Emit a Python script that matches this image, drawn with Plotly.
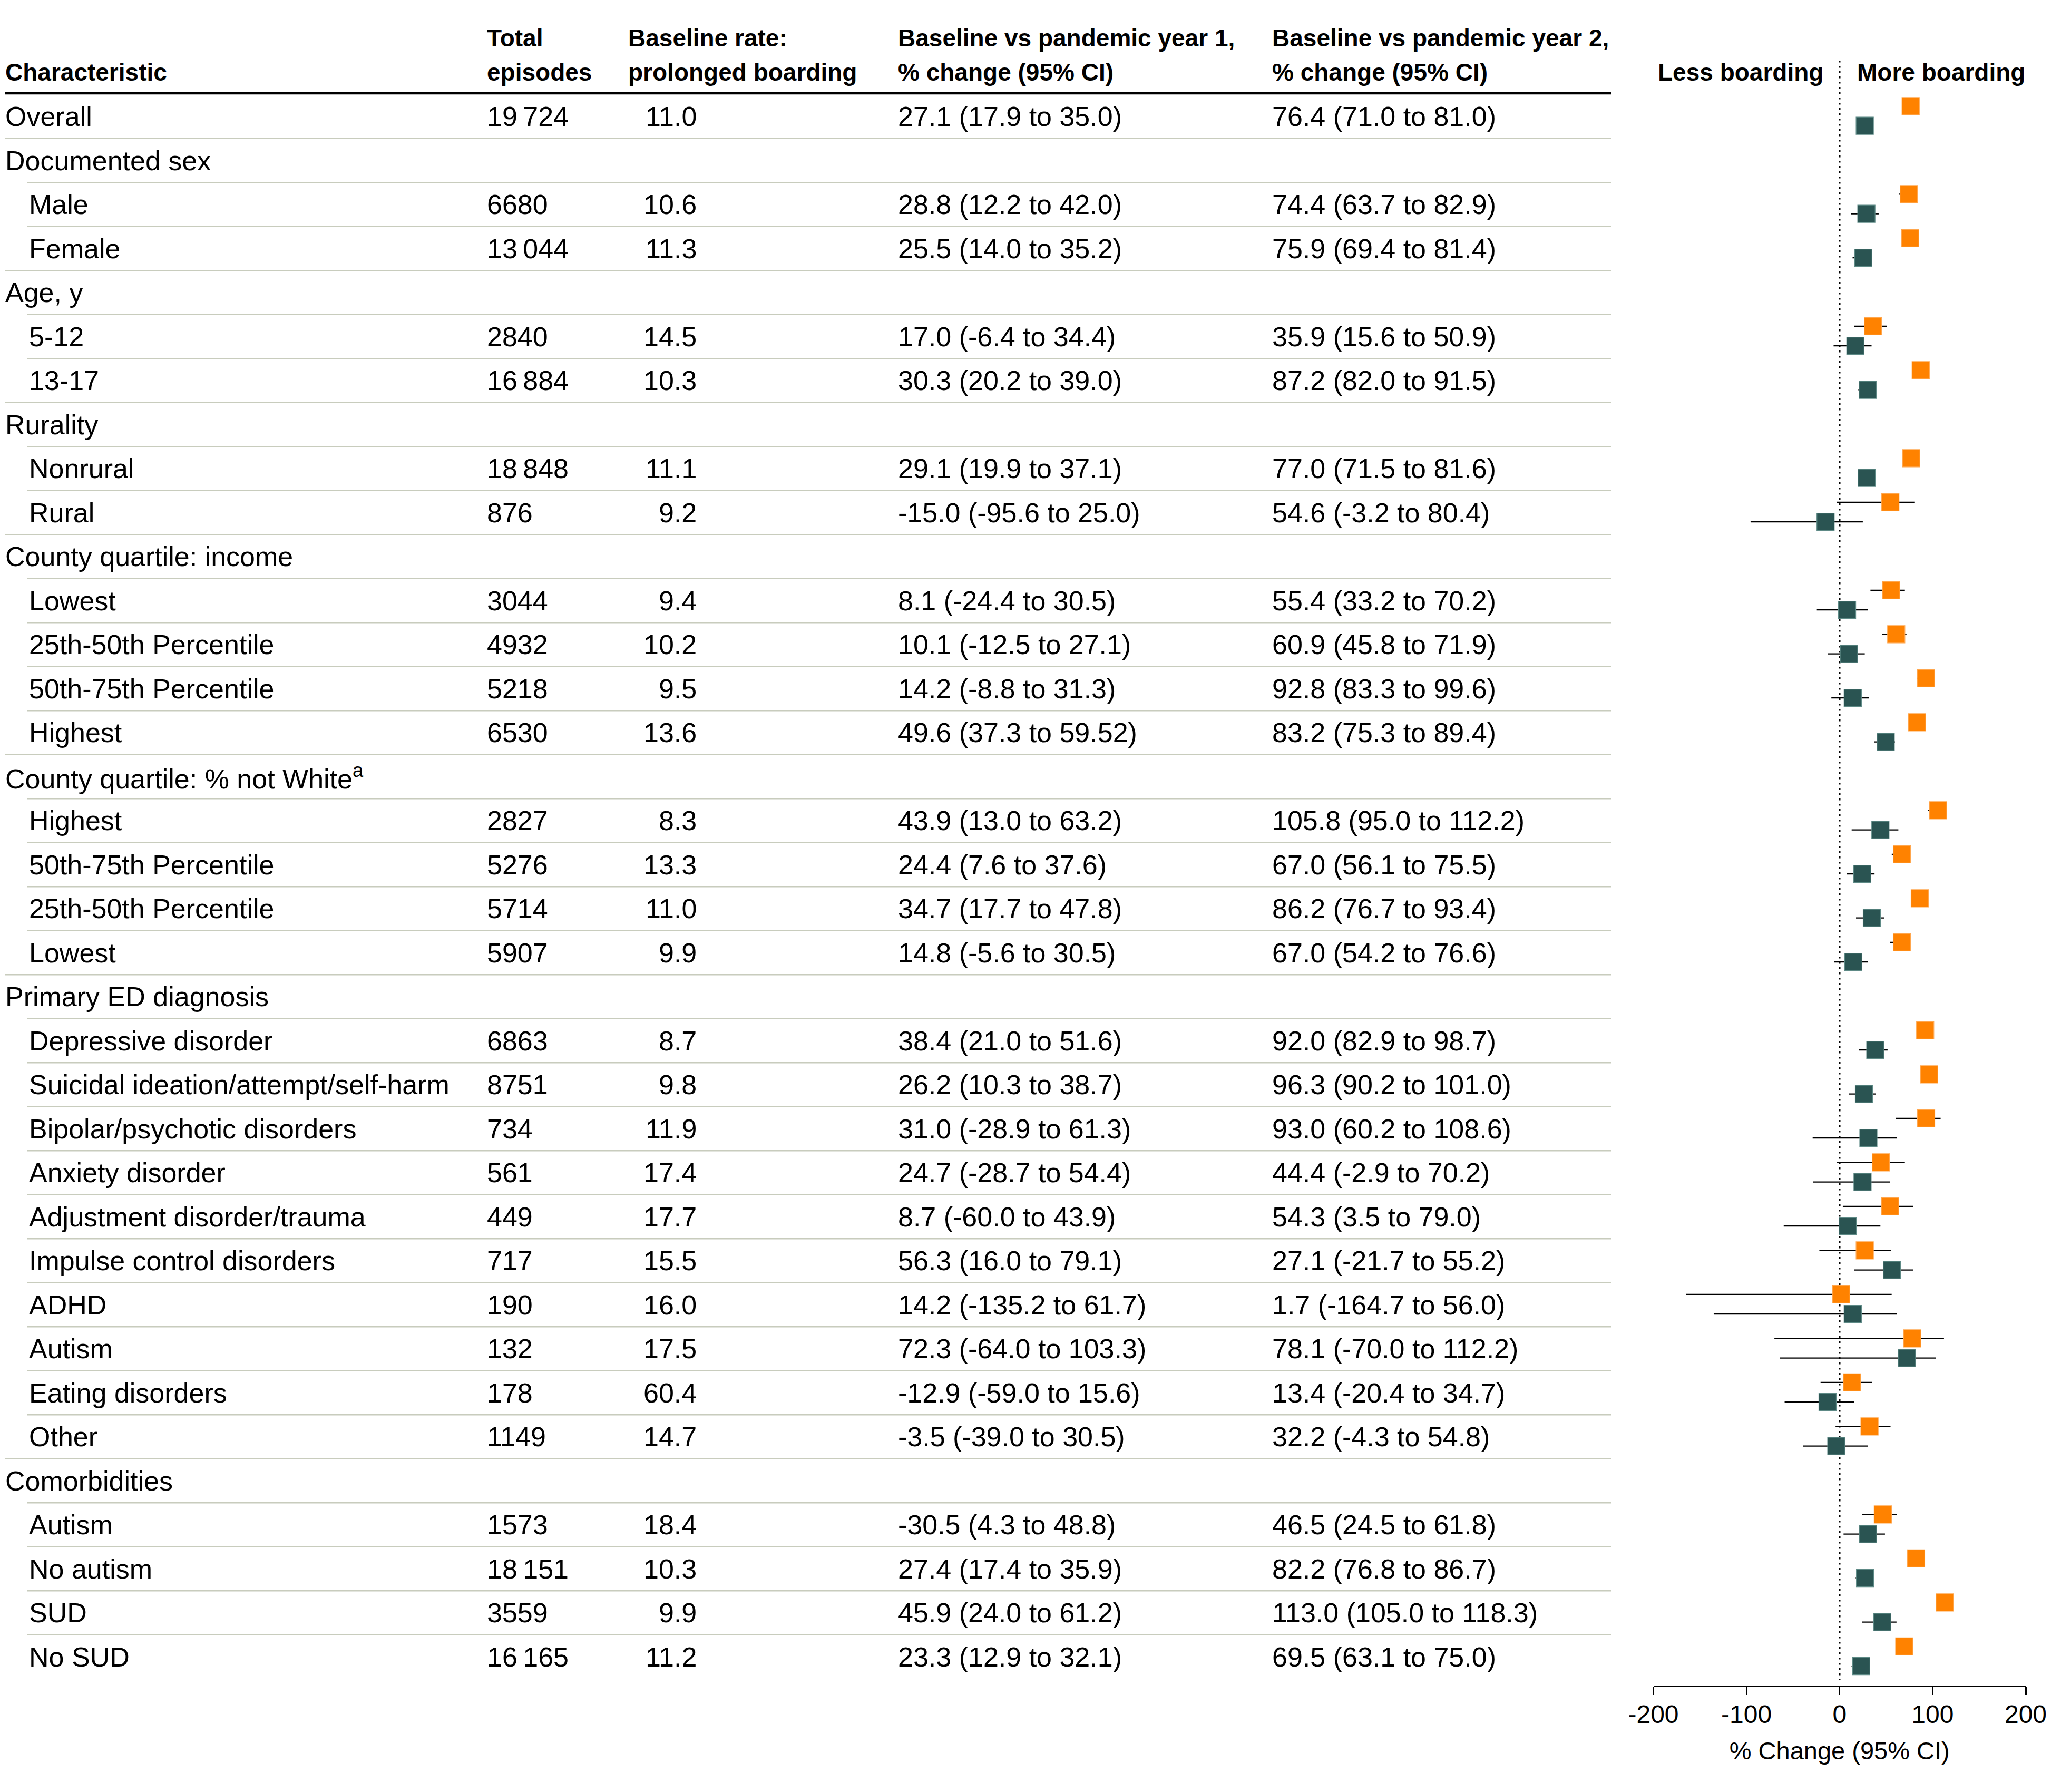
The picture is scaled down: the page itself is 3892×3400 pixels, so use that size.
import plotly.graph_objects as go

# ---------------- data ----------------
labels = ["Overall", "Documented sex", "Male", "Female", "Age, y", "5-12", "13-17",
          "Rurality", "Nonrural", "Rural", "County quartile: income", "Lowest",
          "25th-50th Percentile", "50th-75th Percentile", "Highest",
          "County quartile: % not White<sup>a</sup>", "Highest", "50th-75th Percentile",
          "25th-50th Percentile", "Lowest", "Primary ED diagnosis", "Depressive disorder",
          "Suicidal ideation/attempt/self-harm", "Bipolar/psychotic disorders",
          "Anxiety disorder", "Adjustment disorder/trauma", "Impulse control disorders",
          "ADHD", "Autism", "Eating disorders", "Other", "Comorbidities", "Autism",
          "No autism", "SUD", "No SUD"]
is_group = [True, True, False, False, True, False, False, True, False, False, True,
            False, False, False, False, True, False, False, False, False, True, False,
            False, False, False, False, False, False, False, False, False, True, False,
            False, False, False]
total_txt = ["19\u2009724", "", "6680", "13\u2009044", "", "2840", "16\u2009884", "",
             "18\u2009848", "876", "", "3044", "4932", "5218", "6530", "", "2827", "5276",
             "5714", "5907", "", "6863", "8751", "734", "561", "449", "717", "190", "132",
             "178", "1149", "", "1573", "18\u2009151", "3559", "16\u2009165"]
base_txt = ["11.0", "", "10.6", "11.3", "", "14.5", "10.3", "", "11.1", "9.2", "", "9.4",
            "10.2", "9.5", "13.6", "", "8.3", "13.3", "11.0", "9.9", "", "8.7", "9.8",
            "11.9", "17.4", "17.7", "15.5", "16.0", "17.5", "60.4", "14.7", "", "18.4",
            "10.3", "9.9", "11.2"]
y1_txt = ["27.1 (17.9 to 35.0)", "", "28.8 (12.2 to 42.0)", "25.5 (14.0 to 35.2)", "",
          "17.0 (-6.4 to 34.4)", "30.3 (20.2 to 39.0)", "", "29.1 (19.9 to 37.1)",
          "-15.0 (-95.6 to 25.0)", "", "8.1 (-24.4 to 30.5)", "10.1 (-12.5 to 27.1)",
          "14.2 (-8.8 to 31.3)", "49.6 (37.3 to 59.52)", "", "43.9 (13.0 to 63.2)",
          "24.4 (7.6 to 37.6)", "34.7 (17.7 to 47.8)", "14.8 (-5.6 to 30.5)", "",
          "38.4 (21.0 to 51.6)", "26.2 (10.3 to 38.7)", "31.0 (-28.9 to 61.3)",
          "24.7 (-28.7 to 54.4)", "8.7 (-60.0 to 43.9)", "56.3 (16.0 to 79.1)",
          "14.2 (-135.2 to 61.7)", "72.3 (-64.0 to 103.3)", "-12.9 (-59.0 to 15.6)",
          "-3.5 (-39.0 to 30.5)", "", "-30.5 (4.3 to 48.8)", "27.4 (17.4 to 35.9)",
          "45.9 (24.0 to 61.2)", "23.3 (12.9 to 32.1)"]
y2_txt = ["76.4 (71.0 to 81.0)", "", "74.4 (63.7 to 82.9)", "75.9 (69.4 to 81.4)", "",
          "35.9 (15.6 to 50.9)", "87.2 (82.0 to 91.5)", "", "77.0 (71.5 to 81.6)",
          "54.6 (-3.2 to 80.4)", "", "55.4 (33.2 to 70.2)", "60.9 (45.8 to 71.9)",
          "92.8 (83.3 to 99.6)", "83.2 (75.3 to 89.4)", "", "105.8 (95.0 to 112.2)",
          "67.0 (56.1 to 75.5)", "86.2 (76.7 to 93.4)", "67.0 (54.2 to 76.6)", "",
          "92.0 (82.9 to 98.7)", "96.3 (90.2 to 101.0)", "93.0 (60.2 to 108.6)",
          "44.4 (-2.9 to 70.2)", "54.3 (3.5 to 79.0)", "27.1 (-21.7 to 55.2)",
          "1.7 (-164.7 to 56.0)", "78.1 (-70.0 to 112.2)", "13.4 (-20.4 to 34.7)",
          "32.2 (-4.3 to 54.8)", "", "46.5 (24.5 to 61.8)", "82.2 (76.8 to 86.7)",
          "113.0 (105.0 to 118.3)", "69.5 (63.1 to 75.0)"]

N = None
# plotted estimates (year 1 = pandemic year 1, year 2 = pandemic year 2)
y1_est = [27.1, N, 28.8, 25.5, N, 17.0, 30.3, N, 29.1, -15.0, N, 8.1, 10.1, 14.2, 49.6, N,
          43.9, 24.4, 34.7, 14.8, N, 38.4, 26.2, 31.0, 24.7, 8.7, 56.3, 14.2, 72.3, -12.9,
          -3.5, N, 30.5, 27.4, 45.9, 23.3]
y1_lo = [17.9, N, 12.2, 14.0, N, -6.4, 20.2, N, 19.9, -95.6, N, -24.4, -12.5, -8.8, 37.3, N,
         13.0, 7.6, 17.7, -5.6, N, 21.0, 10.3, -28.9, -28.7, -60.0, 16.0, -135.2, -64.0,
         -59.0, -39.0, N, 4.3, 17.4, 24.0, 12.9]
y1_hi = [35.0, N, 42.0, 35.2, N, 34.4, 39.0, N, 37.1, 25.0, N, 30.5, 27.1, 31.3, 59.52, N,
         63.2, 37.6, 47.8, 30.5, N, 51.6, 38.7, 61.3, 54.4, 43.9, 79.1, 61.7, 103.3, 15.6,
         30.5, N, 48.8, 35.9, 61.2, 32.1]
y2_est = [76.4, N, 74.4, 75.9, N, 35.9, 87.2, N, 77.0, 54.6, N, 55.4, 60.9, 92.8, 83.2, N,
          105.8, 67.0, 86.2, 67.0, N, 92.0, 96.3, 93.0, 44.4, 54.3, 27.1, 1.7, 78.1, 13.4,
          32.2, N, 46.5, 82.2, 113.0, 69.5]
y2_lo = [71.0, N, 63.7, 69.4, N, 15.6, 82.0, N, 71.5, -3.2, N, 33.2, 45.8, 83.3, 75.3, N,
         95.0, 56.1, 76.7, 54.2, N, 82.9, 90.2, 60.2, -2.9, 3.5, -21.7, -164.7, -70.0, -20.4,
         -4.3, N, 24.5, 76.8, 105.0, 63.1]
y2_hi = [81.0, N, 82.9, 81.4, N, 50.9, 91.5, N, 81.6, 80.4, N, 70.2, 71.9, 99.6, 89.4, N,
         112.2, 75.5, 93.4, 76.6, N, 98.7, 101.0, 108.6, 70.2, 79.0, 55.2, 56.0, 112.2, 34.7,
         54.8, N, 61.8, 86.7, 118.3, 75.0]

tick_vals = [-200, -100, 0, 100, 200]
tick_text = ["-200", "-100", "0", "100", "200"]

# ---------------- layout helpers (screen pixel targets) ----------------
SCREEN_W, SCREEN_H = 3892, 3400
OX, OY = 8, 8                      # page body margin
W, H = SCREEN_W - OX, SCREEN_H - OY
ROW0, ROWH = 221.0, 83.5           # screen y of first row centre, row pitch
AXIS_Y = 3198                      # screen y of x-axis line
FONT = "Liberation Sans, Arial, sans-serif"
ORANGE, TEAL = "#FF8200", "#2A5452"


def yrow(px):
    return (px - ROW0) / ROWH


def xp(px):
    return (px - OX) / W


fig = go.Figure()

OFF2, OFF1 = -0.235, 0.21


def ci_xy(lo, hi, off):
    xs, ys = [], []
    for i, (a, b) in enumerate(zip(lo, hi)):
        if a is None:
            continue
        xs += [a, b, None]
        ys += [i + off, i + off, None]
    return xs, ys


for lo, hi, off in [(y2_lo, y2_hi, OFF2), (y1_lo, y1_hi, OFF1)]:
    xs, ys = ci_xy(lo, hi, off)
    fig.add_trace(go.Scatter(x=xs, y=ys, mode="lines",
                             line=dict(color="black", width=2.3),
                             hoverinfo="skip", showlegend=False))

# reference line at zero (dotted)
fig.add_trace(go.Scatter(x=[0, 0], y=[yrow(115), yrow(3188)], mode="lines",
                         line=dict(color="black", width=3.5, dash="3.5px,6.5px"),
                         hoverinfo="skip", showlegend=False))

for est, off, col, lcol, name in [(y2_est, OFF2, ORANGE, "#FFA64D", "Pandemic year 2"),
                                  (y1_est, OFF1, TEAL, "#5E8A86", "Pandemic year 1")]:
    xs = [v for v in est if v is not None]
    ys = [i + off for i, v in enumerate(est) if v is not None]
    fig.add_trace(go.Scatter(x=xs, y=ys, mode="markers", name=name,
                             marker=dict(symbol="square", size=33, color=col,
                                         line=dict(color=lcol, width=1.2)),
                             showlegend=False))

ann = []
BODY = 52
HEAD = 46


def add_text(text, x, y, size=BODY, anchor="left", bold=False):
    ann.append(dict(text=("<b>%s</b>" % text) if bold else text, x=xp(x), y=y,
                    xref="paper", yref="y", xanchor=anchor, yanchor="middle",
                    showarrow=False, font=dict(family=FONT, size=size, color="black")))


X_GRP, X_SUB, X_TOT, X_BASE_HEAD, X_BASE_R, X_Y1, X_Y2 = 8, 53, 922, 1190, 1324, 1702, 2412

# header
L1, L2 = yrow(72), yrow(137)
add_text("Characteristic", X_GRP, L2, HEAD, bold=True)
add_text("Total", X_TOT, L1, HEAD, bold=True)
add_text("episodes", X_TOT, L2, HEAD, bold=True)
add_text("Baseline rate:", X_BASE_HEAD, L1, HEAD, bold=True)
add_text("prolonged boarding", X_BASE_HEAD, L2, HEAD, bold=True)
add_text("Baseline vs pandemic year 1,", X_Y1, L1, HEAD, bold=True)
add_text("% change (95% CI)", X_Y1, L2, HEAD, bold=True)
add_text("Baseline vs pandemic year 2,", X_Y2, L1, HEAD, bold=True)
add_text("% change (95% CI)", X_Y2, L2, HEAD, bold=True)
add_text("Less boarding", 3462, L2, HEAD, anchor="right", bold=True)
add_text("More boarding", 3522, L2, HEAD, bold=True)

# body rows
for i, lab in enumerate(labels):
    grp = is_group[i]
    add_text(lab, X_GRP if grp else X_SUB, i)
    if total_txt[i]:
        add_text(total_txt[i], X_TOT, i)
    if base_txt[i]:
        add_text(base_txt[i], X_BASE_R, i, anchor="right")
    if y1_txt[i]:
        add_text(y1_txt[i], X_Y1, i)
    if y2_txt[i]:
        add_text(y2_txt[i], X_Y2, i)

shapes = []
RIGHT = 3057
shapes.append(dict(type="line", xref="paper", yref="y", x0=xp(9), x1=xp(RIGHT),
                   y0=yrow(177), y1=yrow(177), line=dict(color="black", width=4.5)))
for i in range(len(labels) - 1):
    start = 9 if (is_group[i + 1] or i == 0) else 51
    shapes.append(dict(type="line", xref="paper", yref="y", x0=xp(start), x1=xp(RIGHT),
                       y0=i + 0.5, y1=i + 0.5, line=dict(color="#C8CCBD", width=2.5)))

fig.update_layout(
    template="none",
    width=W, height=H, autosize=False,
    margin=dict(l=0, r=0, t=0, b=SCREEN_H - AXIS_Y, pad=0, autoexpand=False),
    paper_bgcolor="white", plot_bgcolor="white",
    showlegend=False,
    annotations=ann, shapes=shapes,
    xaxis=dict(domain=[xp(3137.5), xp(3844)], range=[-200, 200], automargin=False,
               tickvals=tick_vals, ticktext=tick_text,
               ticks="outside", ticklen=15, tickwidth=3, tickcolor="black",
               ticklabelstandoff=-5,
               showline=True, linewidth=3, linecolor="black",
               showgrid=False, zeroline=False,
               tickfont=dict(family=FONT, size=48, color="black"),
               title=dict(text="% Change (95% CI)", standoff=28,
                          font=dict(family=FONT, size=47, color="black"))),
    yaxis=dict(domain=[0, 1], range=[yrow(AXIS_Y), yrow(OY)], visible=False,
               automargin=False, showgrid=False, zeroline=False),
)

fig.write_html("out.html")
